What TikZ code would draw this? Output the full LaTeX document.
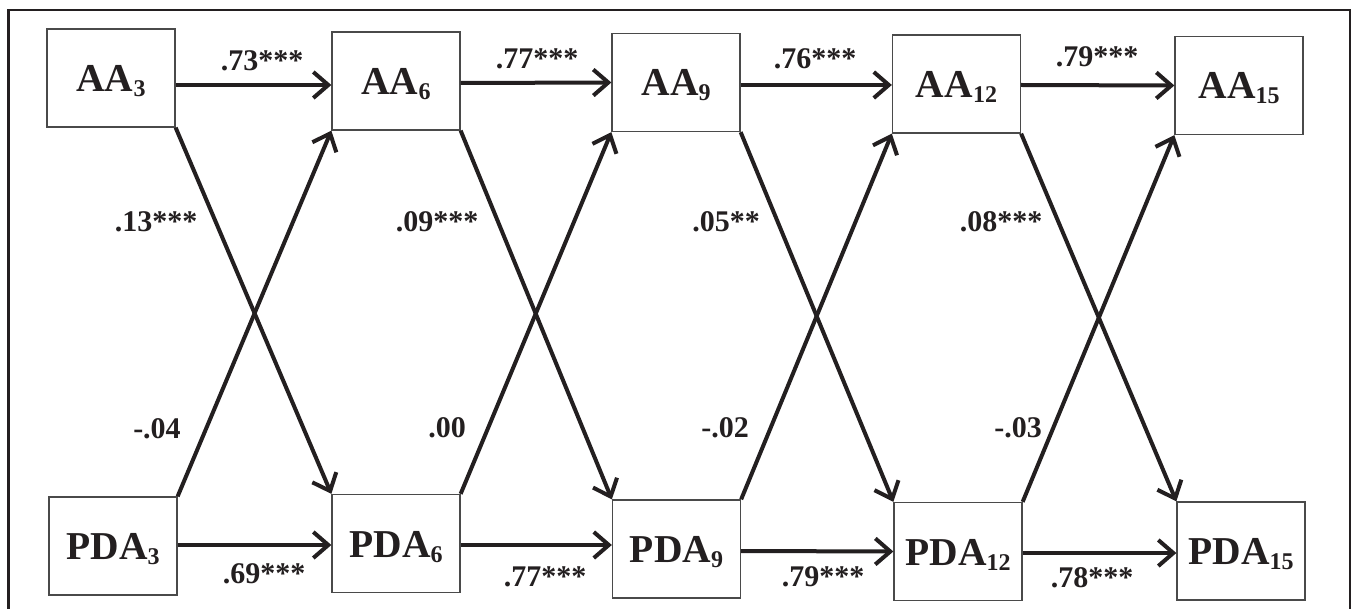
\documentclass[tikz,border=0pt]{standalone}
\usepackage{fontspec}
\setmainfont{Liberation Serif}
\usetikzlibrary{arrows.meta}
\definecolor{ink}{HTML}{231F20}
\definecolor{boxline}{HTML}{4A4A4A}
\newcommand\mysub[1]{\raisebox{-5pt}{\fontsize{24}{24}\selectfont #1}}
\begin{document}
\begin{tikzpicture}[x=1pt,y=-1pt,
  var/.style={draw=boxline, line width=1.3pt, minimum width=128pt, minimum height=98pt,
    inner sep=0pt, text=ink, text height=27pt, text depth=0pt,
    font=\fontsize{39.5}{39.5}\selectfont\bfseries},
  lab/.style={inner sep=0pt, text=ink, font=\fontsize{30}{30}\selectfont\bfseries},
  arr/.style={draw=ink, line width=4pt, -{Straight Barb[length=15pt,width=26pt]}}]
\useasboundingbox (0,0) rectangle (1354,609);
\fill[white] (0,0) rectangle (1354,609);
% frame
\draw[ink, line width=2.5pt] (8.5,609) -- (8.5,10) -- (1350,10) -- (1350,609);
% nodes
\node[var] (AA3)  at (111,78)    {AA\mysub{3}};
\node[var] (AA6)  at (396,81)    {AA\mysub{6}};
\node[var] (AA9)  at (676,82.5)  {AA\mysub{9}};
\node[var] (AA12) at (956.5,84)  {AA\mysub{12}};
\node[var] (AA15) at (1239,85.5) {AA\mysub{15}};
\node[var] (PDA3)  at (113,546)    {PDA\mysub{3}};
\node[var] (PDA6)  at (396,543.5)  {PDA\mysub{6}};
\node[var] (PDA9)  at (676.5,549)  {PDA\mysub{9}};
\node[var] (PDA12) at (958,551.5)  {PDA\mysub{12}};
\node[var] (PDA15) at (1241,551)   {PDA\mysub{15}};
% horizontal paths
\draw[arr] ([yshift=-7pt]AA3.east) -- ([yshift=-4pt]AA6.west);
\draw[arr] ([yshift=-2pt]AA6.east) -- ([yshift=0pt]AA9.west);
\draw[arr] ([yshift=-2.5pt]AA9.east) -- ([yshift=-1pt]AA12.west);
\draw[arr] ([yshift=-1pt]AA12.east) -- ([yshift=0pt]AA15.west);
\draw[arr] ([yshift=1pt]PDA3.east) -- ([yshift=-1.5pt]PDA6.west);
\draw[arr] ([yshift=-1.5pt]PDA6.east) -- ([yshift=4pt]PDA9.west);
\draw[arr] ([yshift=-2pt]PDA9.east) -- ([yshift=0pt]PDA12.west);
\draw[arr] ([yshift=-1.5pt]PDA12.east) -- ([yshift=-2pt]PDA15.west);
% cross paths
\draw[arr] (AA3.south east) -- (PDA6.north west);
\draw[arr] (PDA3.north east) -- (AA6.south west);
\draw[arr] (AA6.south east) -- (PDA9.north west);
\draw[arr] (PDA6.north east) -- (AA9.south west);
\draw[arr] (AA9.south east) -- (PDA12.north west);
\draw[arr] (PDA9.north east) -- (AA12.south west);
\draw[arr] (AA12.south east) -- (PDA15.north west);
\draw[arr] (PDA12.north east) -- (AA15.south west);
% labels
\node[lab] (t1) at (262,61)  {.73***};
\node[lab] (t2) at (537,59)  {.77***};
\node[lab] (t3) at (815,59)  {.76***};
\node[lab] (t4) at (1097,57) {.79***};
\node[lab] (c1) at (156,222)  {.13***};
\node[lab] (c2) at (437,222)  {.09***};
\node[lab] (c3) at (726,222)  {.05**};
\node[lab] (c4) at (1001,222) {.08***};
\node[lab] (d1) at (157,429)  {-.04};
\node[lab] (d2) at (447,428)  {.00};
\node[lab] (d3) at (725,428)  {-.02};
\node[lab] (d4) at (1018,428) {-.03};
\node[lab] (b1) at (264,574)  {.69***};
\node[lab] (b2) at (545,577)  {.77***};
\node[lab] (b3) at (823,577)  {.79***};
\node[lab] (b4) at (1092,578) {.78***};
\end{tikzpicture}
\end{document}
